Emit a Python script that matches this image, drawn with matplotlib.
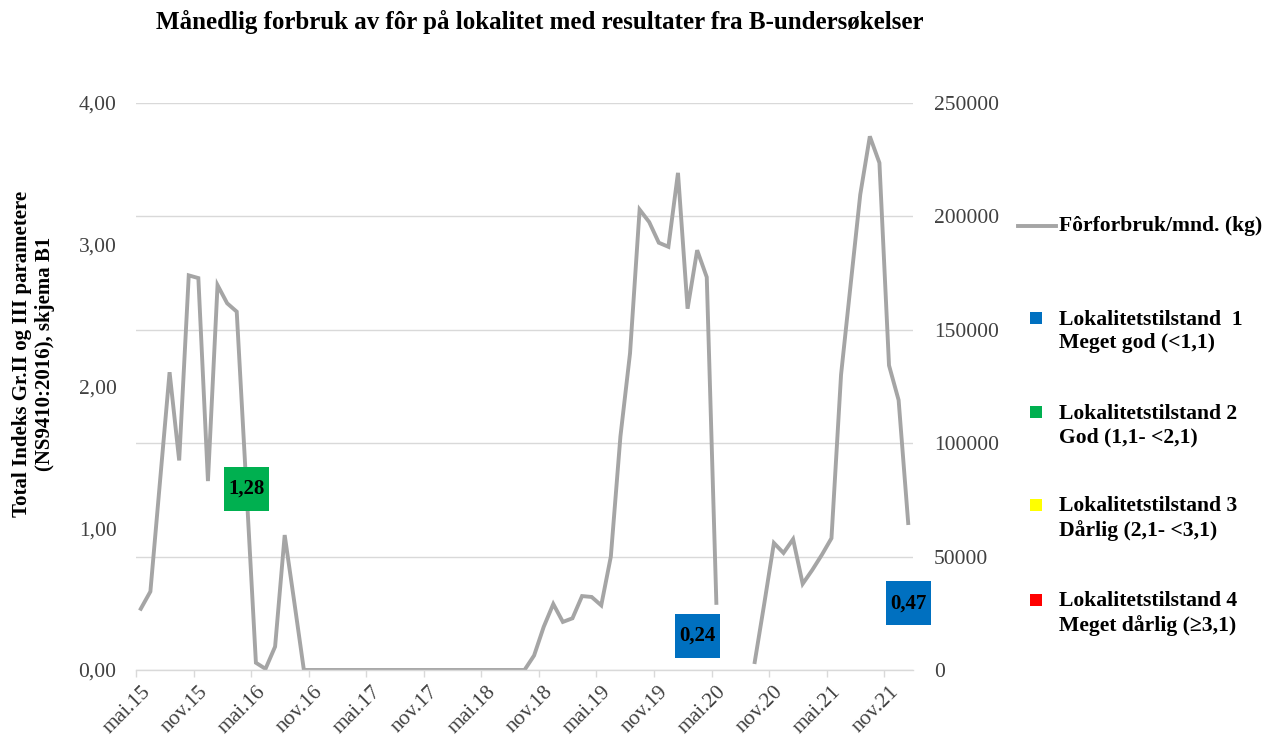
import matplotlib
matplotlib.use("Agg")
import matplotlib.pyplot as plt
from matplotlib.lines import Line2D
from matplotlib.patches import Rectangle
import numpy as np

plt.rcParams['font.family'] = ['Liberation Serif', 'DejaVu Serif']

# ---- data ----
title = "Månedlig forbruk av fôr på lokalitet med resultater fra B-undersøkelser"
ylabel_left = "Total Indeks Gr.II og III parametere\n(NS9410:2016), skjema B1"

# monthly feed use (kg), May 2015 .. Jan 2022 (None = no data)
feed_kg = [
    27000, 34600, 83000, 131300, 92400, 174000, 172800, 83300, 169700, 161700,
    158000, 81000, 3200, 500, 10300, 59500, 30000, 0, 0, 0,
    0, 0, 0, 0, 0, 0, 0, 0, 0, 0,
    0, 0, 0, 0, 0, 0, 0, 0, 0, 0,
    0, 6400, 19000, 29100, 21200, 22800, 32600, 32200, 28500, 50000,
    103000, 139600, 203000, 197500, 188400, 186600, 219200, 159300, 185100, 173200,
    29600, None, None, None, 3500, 29400, 56000, 51600, 57700, 38000,
    44100, 50800, 58100, 130200, 170000, 209600, 235300, 223600, 134300, 119000,
    64800,
]

tick_labels = ["mai.15", "nov.15", "mai.16", "nov.16", "mai.17", "nov.17", "mai.18",
               "nov.18", "mai.19", "nov.19", "mai.20", "nov.20", "mai.21", "nov.21"]

# B-survey results: month index, index value, condition class
b_month_idx = [11, 58, 80]
b_index = [1.28, 0.24, 0.47]
b_class = [2, 1, 1]

legend_line_label = "Fôrforbruk/mnd. (kg)"
class_labels = ["Lokalitetstilstand  1\nMeget god (<1,1)",
                "Lokalitetstilstand 2\nGod (1,1- <2,1)",
                "Lokalitetstilstand 3\nDårlig (2,1- <3,1)",
                "Lokalitetstilstand 4\nMeget dårlig (≥3,1)"]
class_colors = ["#0070C0", "#00B050", "#FFFF00", "#FF0000"]

# ---- figure ----
W, H = 1270, 741
fig = plt.figure(figsize=(W / 100, H / 100), dpi=100)
fig.patch.set_facecolor("white")

def fx(px):
    return px / W

def fy(py):
    return 1 - py / H

L, R, T, B = 136, 913, 103, 670
ax1 = fig.add_axes([fx(L), fy(B), fx(R) - fx(L), fy(T) - fy(B)])
ax2 = ax1.twinx()
ax1.set_zorder(ax2.get_zorder() + 1)
ax1.patch.set_visible(False)

n = len(feed_kg)
x = np.arange(n)
y = np.array([np.nan if v is None else v for v in feed_kg], dtype=float)

ax2.plot(x, y, color="#A5A5A5", lw=2.8, solid_joinstyle="miter", zorder=3)
ax2.set_ylim(0, 250000)
ax2.set_yticks(np.arange(0, 250001, 50000))
ax2.yaxis.grid(True, color="#D9D9D9", lw=1.0)
ax2.set_axisbelow(True)
ax2.tick_params(axis="y", length=0, pad=15, labelsize=15.5, labelcolor="#404040")

ax1.set_xlim(-0.5, n - 0.5)
ax1.set_ylim(0, 4)
ax1.set_yticks([0, 1, 2, 3, 4])
ax1.set_yticklabels([f"{v:.2f}".replace(".", ",") for v in [0, 1, 2, 3, 4]])
ax1.tick_params(axis="y", length=0, pad=14, labelsize=15.5, labelcolor="#404040")

label_pos = np.arange(0, 6 * len(tick_labels), 6)
ax1.set_xticks(label_pos)
ax1.set_xticklabels(tick_labels, rotation=45, ha="right", rotation_mode="anchor",
                    fontsize=15.5, color="#404040")
ax1.tick_params(axis="x", which="major", length=0, pad=9)
ax1.set_xticks(label_pos - 0.5, minor=True)
ax1.tick_params(axis="x", which="minor", length=5, color="#D9D9D9", width=1)

for a in (ax1, ax2):
    for s in ("top", "left", "right"):
        a.spines[s].set_visible(False)
ax2.spines["bottom"].set_visible(False)
ax1.spines["bottom"].set_color("#D9D9D9")
ax1.spines["bottom"].set_linewidth(1.0)

# left axis title
fig.text(fx(33.5), fy(353.5), ylabel_left, rotation=90, ha="center", va="center",
         multialignment="center", fontsize=15, fontweight="bold", linespacing=1.15)

# B-survey labels (boxes centred on the index value)
for i, v, c in zip(b_month_idx, b_index, b_class):
    px, py = ax1.transData.transform((i, v))
    bw, bh = 45, 44
    ax1.add_artist(Rectangle(((px - bw / 2) / W, (py - bh / 2) / H), bw / W, bh / H,
                             transform=fig.transFigure, fc=class_colors[c - 1], ec="none",
                             zorder=5, clip_on=False))
    ax1.text(i, v, f"{v:.2f}".replace(".", ","), ha="center", va="center",
             fontsize=15, fontweight="bold", color="black", zorder=6, clip_on=False)

# title
fig.text(fx(540), fy(22), title, ha="center", va="center", fontsize=18, fontweight="bold")

# legend (manual, Excel style)
fig.add_artist(Line2D([fx(1018), fx(1056)], [fy(226), fy(226)], color="#A5A5A5", lw=2.8,
                      transform=fig.transFigure))
fig.text(fx(1059), fy(226), legend_line_label, ha="left", va="center", fontsize=15.6,
         fontweight="bold")
sq_y = [318, 412, 505, 600]
for yy, lab, col in zip(sq_y, class_labels, class_colors):
    fig.add_artist(Rectangle((fx(1030), fy(yy + 6)), fx(12), 12 / H, fc=col, ec="none",
                             transform=fig.transFigure))
    fig.text(fx(1059), fy(yy + 13.5), lab, ha="left", va="center", fontsize=15.6,
             fontweight="bold", linespacing=1.25)

fig.savefig("out.png", dpi=100)
